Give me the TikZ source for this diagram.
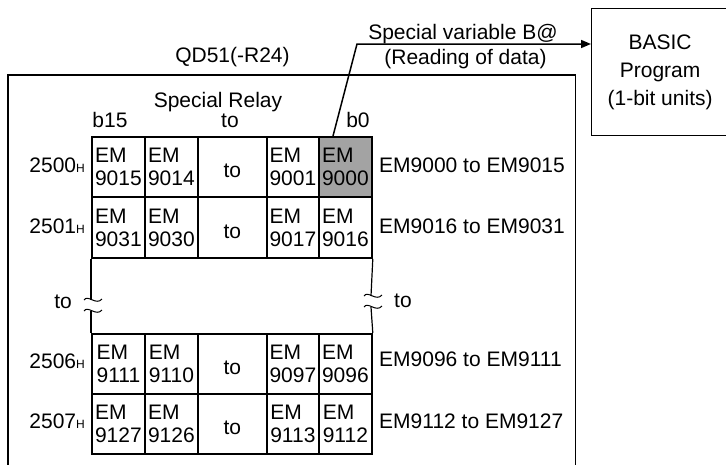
\documentclass[tikz,border=0pt]{standalone}
\usepackage{fontspec}
\setmainfont{Liberation Sans}
\usepackage{xcolor}
\definecolor{relayGray}{RGB}{163,163,163}
\usepackage{tikz}
\usetikzlibrary{
    arrows.meta,
    positioning
}
\newcommand{\hx}{{\fontsize{12}{12}\selectfont H}}
\tikzset{
    gapmark/.pic={
        \draw[line width=1pt] (-8,0) .. controls (-4,-6) and (4,6) .. (10,-1);
        \draw[line width=1pt] (-8,11) .. controls (-4,5) and (4,17) .. (10,10);
    }
}

\begin{document}
\begin{tikzpicture}[
    x=1pt, y=-1pt,
    font=\fontsize{21}{23}\selectfont,
    relayCell/.style={
        rectangle,
        draw=black, line width=1.8pt,
        minimum height=60pt, inner sep=0pt,
        anchor=north west, align=left
    },
    toCell/.style={
        relayCell, align=center,
        text height=22pt, text depth=0pt
    },
    plainText/.style={
        anchor=base, inner sep=0pt
    },
    readArrow/.style={
        -{Triangle[length=10pt, width=8pt]}, line width=1.5pt
    }
]
    \useasboundingbox (0,0) rectangle (726,464);

    % Module frame
    \draw[line width=1.2pt] (8,470) -- (8,75) -- (575.5,75) -- (575.5,470);
    \node[plainText] (qd51) at (232.5,62) {QD51(-R24)};

    % Header
    \node[plainText] (relayTitle) at (218,107) {Special Relay};
    \node[plainText] (b15) at (110,127) {b15};
    \node[plainText] (bitTo) at (230,127) {to};
    \node[plainText] (b0) at (358,127) {b0};

    % Row 2500H
    \node[relayCell, minimum width=53pt] (r1c1) at (91,136) {EM\\9015};
    \node[relayCell, minimum width=53pt] (r1c2) at (144,136) {EM\\9014};
    \node[toCell, minimum width=69pt] (r1c3) at (197,136) {to};
    \node[relayCell, minimum width=52pt] (r1c4) at (266,136) {EM\\9001};
    \node[relayCell, minimum width=53pt, fill=relayGray] (r1c5) at (318,136) {EM\\9000};

    % Row 2501H
    \node[relayCell, minimum width=53pt, minimum height=61pt] (r2c1) at (91,196) {EM\\9031};
    \node[relayCell, minimum width=53pt, minimum height=61pt] (r2c2) at (144,196) {EM\\9030};
    \node[toCell, minimum width=69pt, minimum height=61pt] (r2c3) at (197,196) {to};
    \node[relayCell, minimum width=52pt, minimum height=61pt] (r2c4) at (266,196) {EM\\9017};
    \node[relayCell, minimum width=53pt, minimum height=61pt] (r2c5) at (318,196) {EM\\9016};

    % Row 2506H
    \node[relayCell, minimum width=53pt] (r3c1) at (91,333) {EM\\9111};
    \node[relayCell, minimum width=53pt] (r3c2) at (144,333) {EM\\9110};
    \node[toCell, minimum width=69pt] (r3c3) at (197,333) {to};
    \node[relayCell, minimum width=52pt] (r3c4) at (266,333) {EM\\9097};
    \node[relayCell, minimum width=53pt] (r3c5) at (318,333) {EM\\9096};

    % Row 2507H
    \node[relayCell, minimum width=53pt] (r4c1) at (91,393) {EM\\9127};
    \node[relayCell, minimum width=53pt] (r4c2) at (144,393) {EM\\9126};
    \node[toCell, minimum width=69pt] (r4c3) at (197,393) {to};
    \node[relayCell, minimum width=52pt] (r4c4) at (266,393) {EM\\9113};
    \node[relayCell, minimum width=53pt] (r4c5) at (318,393) {EM\\9112};

    % Omitted rows
    \draw[line width=1.2pt] (r2c1.south west) -- (91,300);
    \draw[line width=1.2pt] (91,311) -- (r3c1.north west);
    \pic at (92,300) {gapmark};
    \draw[line width=1.2pt] (r2c5.south east) -- (371,296);
    \draw[line width=1.2pt] (371,307) -- (r3c5.north east);
    \pic at (372,296) {gapmark};
    \node[plainText, anchor=base east] (gapToL) at (72,308) {to};
    \node[plainText, anchor=base west] (gapToR) at (394,307) {to};

    % Addresses
    \node[plainText, anchor=base east] (a2500) at (85,172) {2500\hx};
    \node[plainText, anchor=base east] (a2501) at (85,233) {2501\hx};
    \node[plainText, anchor=base east] (a2506) at (85,368) {2506\hx};
    \node[plainText, anchor=base east] (a2507) at (85,428) {2507\hx};

    % Relay ranges
    \node[plainText, anchor=base west] (rng1) at (379,172) {EM9000 to EM9015};
    \node[plainText, anchor=base west] (rng2) at (379,233) {EM9016 to EM9031};
    \node[plainText, anchor=base west] (rng3) at (379,366) {EM9096 to EM9111};
    \node[plainText, anchor=base west] (rng4) at (379,428) {EM9112 to EM9127};

    % BASIC side
    \node[draw=black, line width=1.2pt, minimum width=137pt, minimum height=127pt,
          anchor=north west, align=center, font=\fontsize{21}{28}\selectfont] (basic) at (591,8) {
        BASIC\\
        Program\\
        (1-bit units)
    };

    % Read path
    \coordinate (tap) at (333,136);
    \coordinate (bend) at (357,44);
    \draw[readArrow] (tap) -- (bend) -- (bend -| basic.west);
    \node[plainText] (varName) at (463,39) {Special variable B@};
    \node[plainText] (readNote) at (465.5,64) {(Reading of data)};

\end{tikzpicture}
\end{document}
